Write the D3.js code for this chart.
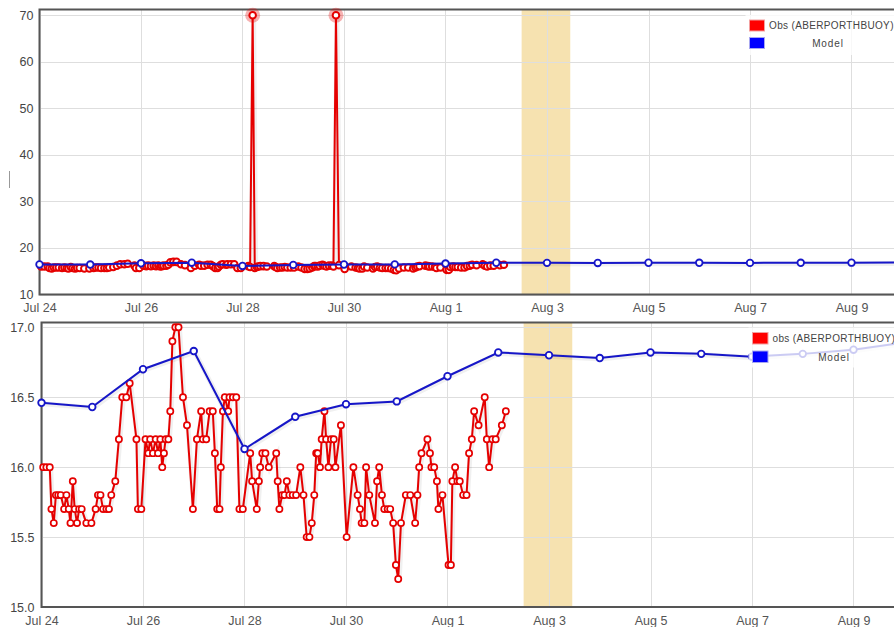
<!DOCTYPE html>
<html><head><meta charset="utf-8">
<script src="https://cdn.jsdelivr.net/npm/d3@7"></script>
<style>
body{margin:0;background:#fff;}
svg{display:block;font-family:"Liberation Sans",Arial,sans-serif;}
</style>
</head><body>
<svg id="chart" width="894" height="627"></svg>
<script>
// ---------------- DATA ----------------
const startTime = "2013-07-24T00:00:00Z";           // hours below are counted from here
const xTickDays = [0, 2, 4, 6, 8, 10, 12, 14, 16];
const xTickLabels = ["Jul 24","Jul 26","Jul 28","Jul 30","Aug 1","Aug 3","Aug 5","Aug 7","Aug 9"];
const topYTicks = [10, 20, 30, 40, 50, 60, 70];
const topYLabels = ["10","20","30","40","50","60","70"];
const bottomYTicks = [15.0, 15.5, 16.0, 16.5, 17.0];
const bottomYLabels = ["15.0","15.5","16.0","16.5","17.0"];
const forecastBandHours = [228, 251];
const qcMaxValue = 30; // lower panel drops obs above this

const modelHours = [0,24,48,72,96,120,144,168,192,216,240,264,288,312,336,360,384,408];
const modelValues = [16.46,16.43,16.70,16.83,16.13,16.36,16.45,16.47,16.65,16.82,16.80,16.78,16.82,16.81,16.79,16.81,16.84,16.89];

const obsHours = [0.8,2.3,3.9,4.7,5.8,6.8,7.9,9.1,10.7,11.8,12.9,13.7,14.8,15.7,16.8,17.8,19.0,21.2,23.6,25.6,
  26.7,27.9,29.1,30.7,31.9,33.0,34.9,36.6,38.2,40.1,41.7,44.9,45.6,47.2,49.2,50.5,51.4,52.7,54.0,55.1,
  56.2,57.1,57.9,58.7,60.0,60.9,61.9,63.3,64.8,66.9,68.8,71.6,73.5,75.5,76.3,77.9,79.5,81.0,82.0,83.1,
  84.2,84.8,85.8,86.7,88.3,88.9,90.5,92.1,93.6,95.2,98.7,99.6,100.8,101.8,102.8,103.4,104.4,105.9,107.5,111.0,
  111.7,112.5,113.8,114.9,116.0,117.2,118.8,120.4,122.4,123.9,125.4,126.7,127.8,129.0,129.9,130.6,131.7,132.5,133.8,134.6,
  135.7,136.9,138.2,139.0,140.2,141.6,144.3,147.5,149.5,150.6,151.4,152.7,153.5,155.0,157.7,158.7,159.7,161.0,162.1,163.7,
  164.9,166.3,167.6,168.7,170.0,172.3,174.4,176.7,177.8,178.6,179.7,182.5,183.7,184.4,185.7,187.0,187.7,189.6,192.5,193.6,
  194.3,195.6,196.7,197.8,199.4,201.0,202.2,203.5,204.6,206.7,209.6,210.6,211.7,213.2,214.8,217.7,219.6];
const obsValues = [16.0,16.0,16.0,15.7,15.6,15.8,15.8,15.8,15.7,15.8,15.7,15.6,15.9,15.7,15.6,15.7,15.7,15.6,15.6,15.7,
  15.8,15.8,15.7,15.7,15.7,15.8,15.9,16.2,16.5,16.5,16.6,16.2,15.7,15.7,16.2,16.1,16.2,16.1,16.2,16.1,
  16.2,16.0,16.1,16.2,16.2,16.4,16.9,17.0,17.0,16.5,16.3,15.7,16.2,16.4,16.2,16.2,16.4,16.4,16.1,15.7,
  15.7,16.0,16.4,16.5,16.4,16.5,16.5,16.5,15.7,15.7,16.1,15.9,70.0,15.7,15.9,16.0,16.1,16.1,16.0,16.1,
  15.9,15.7,15.8,15.8,15.9,15.8,15.8,15.8,16.0,15.8,15.5,15.5,15.6,15.8,16.1,16.1,16.0,16.2,16.4,16.2,
  16.0,16.2,16.2,16.0,70.0,16.3,15.5,16.0,15.8,15.7,15.6,15.6,16.0,15.8,15.6,15.9,16.0,15.8,15.7,15.7,
  15.7,15.6,15.3,15.2,15.6,15.8,15.8,15.6,15.8,16.0,16.1,16.2,16.1,16.0,16.0,15.9,15.7,15.8,15.3,15.3,
  15.9,16.0,15.9,15.9,15.8,15.8,16.1,16.2,16.4,16.3,16.5,16.2,16.0,16.2,16.2,16.3,16.4];

const legendLabelsTop = ["Obs (ABERPORTHBUOY)", "Model"];
const legendLabelsBottom = ["obs (ABERPORTHBUOY)", "Model"];

// ---------------- HELPERS ----------------
const t0 = new Date(startTime).getTime();
const hourToDate = h => new Date(t0 + h * 3600e3);
const obs = obsHours.map((h, i) => ({t: hourToDate(h), v: obsValues[i]}));
const model = modelHours.map((h, i) => ({t: hourToDate(h), v: modelValues[i]}));

const RED = "#e50000", BLUE = "#1616c8";
const svg = d3.select("#chart");

function panel(cfg) {
  const g = svg.append("g");
  const x = d3.scaleUtc()
    .domain([hourToDate(0), hourToDate(420)])
    .range([cfg.left, cfg.left + 17.5 * 50.75]);
  const y = d3.scaleLinear().domain(cfg.yDomain).range([cfg.bottom, cfg.yTopPx]);
  const right = 900;

  // forecast band
  g.append("rect")
    .attr("x", x(hourToDate(forecastBandHours[0])))
    .attr("y", cfg.top)
    .attr("width", x(hourToDate(forecastBandHours[1])) - x(hourToDate(forecastBandHours[0])))
    .attr("height", cfg.bottom - cfg.top)
    .attr("fill", "#f6e2b0");

  // grid
  g.append("g").selectAll("line").data(cfg.yTicks).join("line")
    .attr("x1", cfg.left).attr("x2", right)
    .attr("y1", d => Math.round(y(d)) + 0.5).attr("y2", d => Math.round(y(d)) + 0.5)
    .attr("stroke", "#dedede").attr("stroke-width", 1);
  g.append("g").selectAll("line").data(xTickDays).join("line")
    .attr("x1", d => Math.round(x(hourToDate(d * 24))) + 0.5)
    .attr("x2", d => Math.round(x(hourToDate(d * 24))) + 0.5)
    .attr("y1", cfg.top).attr("y2", cfg.bottom)
    .attr("stroke", "#dedede").attr("stroke-width", 1);

  // axes
  const xAxis = d3.axisBottom(x)
    .tickValues(xTickDays.map(d => hourToDate(d * 24)))
    .tickFormat((d, i) => xTickLabels[i])
    .tickSize(0).tickPadding(9);
  const xa = g.append("g").attr("transform", `translate(0,${cfg.bottom})`).call(xAxis);
  xa.select(".domain").remove();
  xa.selectAll("text").attr("font-size", "12.5px").attr("fill", "#555")
    .attr("font-family", '"Liberation Sans",Arial,sans-serif');

  const yAxis = d3.axisLeft(y).tickValues(cfg.yTicks)
    .tickFormat((d, i) => cfg.yLabels[i]).tickSize(0).tickPadding(cfg.yPad);
  const ya = g.append("g").attr("transform", `translate(${cfg.left},0)`).call(yAxis);
  ya.select(".domain").remove();
  ya.selectAll("text").attr("font-size", "12.5px").attr("fill", "#444")
    .attr("font-family", '"Liberation Sans",Arial,sans-serif');

  // frame
  g.append("path")
    .attr("d", `M${right},${cfg.top}H${cfg.left}V${cfg.bottom}H${right}`)
    .attr("fill", "none").attr("stroke", "#555").attr("stroke-width", 2);

  const line = d3.line().x(d => x(d.t)).y(d => y(d.v));
  const obsData = cfg.filterQC ? obs.filter(d => d.v <= qcMaxValue) : obs;

  // shadows
  g.append("path").datum(obsData).attr("d", line).attr("fill", "none")
    .attr("stroke", "#000").attr("stroke-opacity", 0.06).attr("stroke-width", 5)
    .attr("transform", "translate(1,1)");
  g.append("path").datum(model).attr("d", line).attr("fill", "none")
    .attr("stroke", "#000").attr("stroke-opacity", 0.06).attr("stroke-width", 5)
    .attr("transform", "translate(1,1)");

  // obs
  g.append("path").datum(obsData).attr("d", line).attr("fill", "none")
    .attr("stroke", RED).attr("stroke-width", 2).attr("stroke-linejoin", "round");
  if (!cfg.filterQC) {
    g.append("g").selectAll("circle").data(obsData.filter(d => d.v > qcMaxValue)).join("circle")
      .attr("cx", d => x(d.t)).attr("cy", d => y(d.v)).attr("r", 7.5)
      .attr("fill", RED).attr("fill-opacity", 0.3);
  }
  g.append("g").selectAll("circle").data(obsData).join("circle")
    .attr("cx", d => x(d.t)).attr("cy", d => y(d.v)).attr("r", cfg.obsR)
    .attr("fill", "#fff").attr("stroke", RED).attr("stroke-width", cfg.obsSW);

  // model
  g.append("path").datum(model).attr("d", line).attr("fill", "none")
    .attr("stroke", BLUE).attr("stroke-width", 2);
  g.append("g").selectAll("circle").data(model).join("circle")
    .attr("cx", d => x(d.t)).attr("cy", d => y(d.v)).attr("r", 3.3)
    .attr("fill", "#fff").attr("stroke", BLUE).attr("stroke-width", 1.8);

  // legend
  const L = cfg.legend;
  const lg = g.append("g");
  lg.append("rect").attr("x", L.x - 4).attr("y", L.y - 5).attr("width", 160).attr("height", 40)
    .attr("fill", "#fff").attr("fill-opacity", 0.78);
  [RED, BLUE].forEach((c, i) => {
    lg.append("rect").attr("x", L.x).attr("y", L.y + i * L.dy)
      .attr("width", L.w).attr("height", L.h)
      .attr("fill", c === RED ? "#ff0000" : "#0000ff")
      .attr("stroke", c === RED ? "#f3a0a0" : "#a8a8f0").attr("stroke-width", 1);
  });
  lg.append("text").attr("x", L.x + L.w + 4.5).attr("y", L.y + L.h - 2)
    .attr("font-size", "10px").attr("fill", "#444").attr("letter-spacing", "0.35px")
    .text(cfg.legendLabels[0]);
  lg.append("text").attr("x", L.modelX).attr("y", L.y + L.dy + L.h - 2)
    .attr("text-anchor", "middle").attr("font-size", "10px").attr("fill", "#444")
    .attr("letter-spacing", "0.9px").text(cfg.legendLabels[1]);
}

// thin mark left of top panel (axis title remnant)
svg.append("line").attr("x1", 9.5).attr("x2", 9.5).attr("y1", 171).attr("y2", 188)
  .attr("stroke", "#999").attr("stroke-width", 1);

panel({
  left: 39.5, top: 9.5, bottom: 294.5, yTopPx: 15.2,
  yDomain: [10, 70], yTicks: topYTicks, yLabels: topYLabels, yPad: 6,
  filterQC: false, obsR: 3.3, obsSW: 2,
  legend: {x: 749.5, y: 20, w: 15, h: 11, dy: 17.5, modelX: 828},
  legendLabels: legendLabelsTop
});
panel({
  left: 41.5, top: 322.5, bottom: 607, yTopPx: 327.3,
  yDomain: [15, 17], yTicks: bottomYTicks, yLabels: bottomYLabels, yPad: 7,
  filterQC: true, obsR: 3.1, obsSW: 1.7,
  legend: {x: 752.5, y: 332.5, w: 15.5, h: 11.5, dy: 18.5, modelX: 834},
  legendLabels: legendLabelsBottom
});
</script>
</body></html>
